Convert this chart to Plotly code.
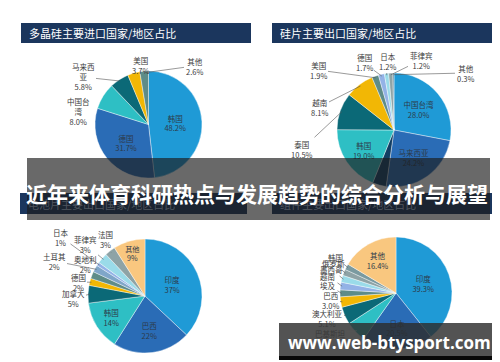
import math
import plotly.graph_objects as go

W, H = 500, 362

# ---- data ----
tl_title = "多晶硅主要进口国家/地区占比"
tl_labels = ["韩国", "德国", "中国台湾", "马来西亚", "美国", "其他"]
tl_values = [48.2, 31.7, 8.0, 5.8, 3.7, 2.6]
tl_text = ["韩国<br>48.2%", "德国<br>31.7%", "中国台<br>湾<br>8.0%", "马来西<br>亚<br>5.8%", "美国<br>3.7%", "其他<br>2.6%"]

tr_title = "硅片主要出口国家/地区占比"
tr_labels = ["中国台湾", "马来西亚", "新加坡", "韩国", "泰国", "越南", "美国", "德国", "日本", "菲律宾", "其他"]
tr_values = [28.0, 24.2, 3.9, 19.0, 10.5, 8.1, 1.9, 1.7, 1.2, 1.2, 0.3]
tr_text = ["中国台湾<br>28.0%", "马来西亚<br>24.2%", "", "韩国<br>19.0%", "泰国<br>10.5%", "越南<br>8.1%",
           "美国<br>1.9%", "德国<br>1.7%", "日本<br>1.2%", "菲律宾<br>1.2%", "其他<br>0.3%"]

bl_title = "电池片主要出口国家/地区占比"
bl_labels = ["印度", "巴西", "韩国", "加拿大", "德国", "奥地利", "土耳其", "日本", "菲律宾", "法国", "其他"]
bl_values = [37, 22, 14, 5, 2, 2, 2, 1, 3, 3, 9]
bl_text = ["印度<br>37%", "巴西<br>22%", "韩国<br>14%", "加拿大<br>5%", "德国<br>2%", "奥地利<br>2%",
           "土耳其<br>2%", "日本<br>1%", "菲律宾<br>3%", "法国<br>3%", "其他<br>9%"]

br_title = "组件主要出口国家/地区占比"
br_labels = ["印度", "日本", "巴基斯坦", "澳大利亚", "巴西", "埃及", "越南", "墨西哥", "俄罗斯", "韩国", "其他"]
br_values = [39.3, 20.5, 6.0, 5.1, 3.0, 2.0, 2.2, 2.0, 1.8, 1.7, 16.4]
br_text = ["印度<br>39.3%", "日本<br>20.5%", "巴基斯坦", "澳大利亚<br>5.1%", "巴西<br>3.0%", "埃及",
           "越南", "墨西哥", "俄罗斯", "韩国", "其他<br>16.4%"]

banner_title = "近年来体育科研热点与发展趋势的综合分析与展望"
watermark = "www.web-btysport.com"

# ---- styles / layout ----
C_LB, C_B, C_NV, C_T, C_DT, C_Y, C_GT = "#1f9ad6", "#2a6cb6", "#123e63", "#2ebfc4", "#0b6977", "#f2b705", "#5e8c88"
C_PB, C_LC, C_GR, C_PE = "#93b2e6", "#9adbe9", "#8ea3a6", "#f9c77f"

tl_colors = [C_LB, C_B, C_T, C_DT, C_Y, C_GT]
tr_colors = [C_LB, C_B, C_NV, C_T, C_DT, C_Y, C_GT, C_PB, C_LC, C_GR, "#4f7f98"]
bl_colors = [C_LB, C_B, C_T, C_DT, C_Y, C_GT, "#7fa6c9", C_PB, C_LC, C_GR, C_PE]
br_colors = [C_LB, C_B, C_T, C_DT, C_Y, C_GT, C_PB, C_LC, C_GR, "#7a9aa0", C_PE]

# pie geometry in pixels: (cx, cy, r)
tl_geo = (140.5, 116.5, 53.5)
tr_geo = (386, 122, 57)
bl_geo = (137, 288, 57)
br_geo = (388, 285, 56)

# outside label positions (pixels); None = label drawn inside the slice
tl_lab = [None, None, (70, 104), (75, 69), (132, 57), (186, 58)]
tr_lab = [None, None, None, None, (294, 141), (311, 99), (310, 62), (356, 55), (379, 53), (413, 52), (457, 65)]
bl_lab = [None, None, None, (65, 290), (70, 274), (77, 256), (46, 253), (53, 229), (77, 236), (97, 232), None]
br_lab = [None, None, (322, 325), (319, 310), (322, 292), (320, 277), (320, 268), (323, 261), (325, 255), (327, 249), None]
no_line = {("tl", 2)}

FONT = "Noto Sans CJK SC"
LBL_COLOR = "#3a3a3a"


def dom(cx, cy, r):
    return dict(x=[(cx - r) / W, (cx + r) / W], y=[1 - (cy + r) / H, 1 - (cy - r) / H])


def pie(labels, values, text, colors, geo, lab):
    pos = ["inside" if p is None else "none" for p in lab]
    return go.Pie(labels=labels, values=values, text=text, texttemplate="%{text}",
                  textposition=pos, insidetextorientation="horizontal",
                  marker=dict(colors=colors, line=dict(color="white", width=0.4)),
                  sort=False, direction="clockwise", rotation=0,
                  domain=dom(*geo), showlegend=False, hoverinfo="label+value",
                  insidetextfont=dict(family=FONT, size=7.5, color="#2d3a4a"))


def outside_labels(key, values, text, geo, lab):
    cx, cy, r = geo
    tot = float(sum(values))
    cum = 0.0
    out = []
    for i, v in enumerate(values):
        mid = 2 * math.pi * (cum + v / 2) / tot
        cum += v
        if lab[i] is None:
            continue
        tx, ty = cx + r * 0.97 * math.sin(mid), cy - r * 0.97 * math.cos(mid)
        lx, ly = lab[i]
        if (key, i) in no_line:
            out.append(dict(text=text[i], xref="paper", yref="paper", x=lx / W, y=1 - ly / H,
                            xanchor="center", yanchor="middle", showarrow=False, align="center",
                            font=dict(family=FONT, size=7.5, color=LBL_COLOR)))
        else:
            out.append(dict(text=text[i], xref="paper", yref="paper", x=tx / W, y=1 - ty / H,
                            ax=lx - tx, ay=ly - ty, showarrow=True, arrowhead=0, arrowwidth=0.6,
                            arrowcolor="#555555", align="center", standoff=0, startstandoff=0,
                            font=dict(family=FONT, size=7.5, color=LBL_COLOR)))
    return out


fig = go.Figure()
fig.add_trace(pie(tl_labels, tl_values, tl_text, tl_colors, tl_geo, tl_lab))
fig.add_trace(pie(tr_labels, tr_values, tr_text, tr_colors, tr_geo, tr_lab))
fig.add_trace(pie(bl_labels, bl_values, bl_text, bl_colors, bl_geo, bl_lab))
fig.add_trace(pie(br_labels, br_values, br_text, br_colors, br_geo, br_lab))

annotations = []
annotations += outside_labels("tl", tl_values, tl_text, tl_geo, tl_lab)
annotations += outside_labels("tr", tr_values, tr_text, tr_geo, tr_lab)
annotations += outside_labels("bl", bl_values, bl_text, bl_geo, bl_lab)
annotations += outside_labels("br", br_values, br_text, br_geo, br_lab)

shapes = []
HDR = "#1b365d"
for (x0, y0, x1, y1, t, faint) in [(13, 15, 243, 35, tl_title, False), (264, 15, 491, 35, tr_title, False),
                                   (12, 185, 239, 206, bl_title, True), (264, 185, 492, 206, br_title, True)]:
    shapes.append(dict(type="rect", xref="paper", yref="paper", x0=x0 / W, x1=x1 / W,
                       y0=1 - y1 / H, y1=1 - y0 / H, fillcolor=HDR, line=dict(width=0), layer="above"))
    annotations.append(dict(text=t, xref="paper", yref="paper", x=(x0 + 6) / W, y=1 - (y0 + y1) / 2 / H,
                            xanchor="left", yanchor="middle", showarrow=False,
                            font=dict(family=FONT, size=11,
                                      color="rgba(200,200,200,0.3)" if faint else "white")))

# banner
shapes.append(dict(type="rect", xref="paper", yref="paper", x0=19 / W, x1=482 / W,
                   y0=1 - 212 / H, y1=1 - 150 / H, fillcolor="rgba(28,28,28,0.66)",
                   line=dict(width=0), layer="above"))
annotations.append(dict(text="<b>" + banner_title + "</b>", xref="paper", yref="paper",
                        x=249 / W, y=1 - 185 / H, xanchor="center", yanchor="middle", showarrow=False,
                        font=dict(family=FONT, size=21, color="white")))
# watermark
shapes.append(dict(type="rect", xref="paper", yref="paper", x0=271 / W, x1=491 / W,
                   y0=1 - 352 / H, y1=1 - 315 / H, fillcolor="rgba(45,45,45,0.82)",
                   line=dict(width=0), layer="above"))
shapes.append(dict(type="rect", xref="paper", yref="paper", x0=271 / W, x1=491 / W,
                   y0=1 - 352 / H, y1=1 - 348 / H, fillcolor="rgba(0,0,0,0.9)",
                   line=dict(width=0), layer="above"))
annotations.append(dict(text="<b>" + watermark + "</b>", xref="paper", yref="paper",
                        x=381 / W, y=1 - 334 / H, xanchor="center", yanchor="middle", showarrow=False,
                        font=dict(family="Open Sans", size=17, color="white")))

fig.update_layout(width=W, height=H, margin=dict(l=0, r=0, t=0, b=0),
                  paper_bgcolor="white", plot_bgcolor="white",
                  shapes=shapes, annotations=annotations)

fig.write_html("out.html")
